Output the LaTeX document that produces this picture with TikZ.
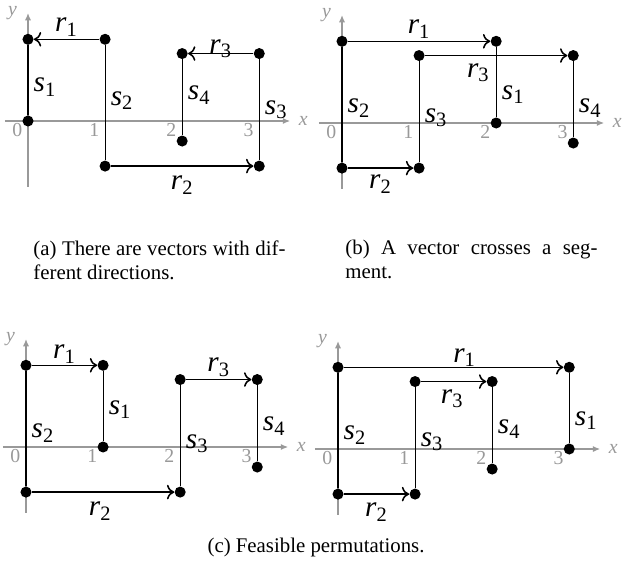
\documentclass[tikz,border=0pt]{standalone}
\usepackage{fontspec}
\setmainfont{Liberation Serif}
\usetikzlibrary{arrows.meta}

\definecolor{axisgray}{gray}{0.6}
\newcommand{\vlab}[2]{\textit{#1}\textsubscript{#2}}
% axes, axis names and ticks of one panel
\newcommand{\drawaxes}[1]{%
  \draw[axisline] (-0.3,0) -- (3.4,0);
  \draw[axisline] (0,-0.85) -- (0,1.40);
  \node[axlbl] (#1x) at (3.57,0) {x};
  \node[axlbl] (#1y) at (-0.2,1.40) {y};
  \foreach \i in {0,...,3} \node[ticklbl] (#1t\i) at (\i-0.14,-0.12) {\i};
}

\tikzset{
  axisline/.style={draw=axisgray, line width=0.6pt, -{Latex[length=3.5pt,width=3pt]}},
  axlbl/.style={text=axisgray, font=\fontsize{9.5}{10}\selectfont\itshape, inner sep=0pt},
  ticklbl/.style={text=axisgray, font=\fontsize{9.5}{10}\selectfont, inner sep=0pt},
  dot/.style={circle, fill=black, inner sep=0pt, minimum size=5.3pt},
  seg/.style={line width=0.5pt},
  vec/.style={line width=0.75pt, -{To[length=3.5pt,width=7pt]}},
  lbl/.style={font=\fontsize{14}{14}\selectfont, inner sep=0pt},
  subcap/.style={font=\fontsize{10}{11.5}\selectfont, inner sep=0pt, text width=121pt, align=justify, anchor=north west}
}

\begin{document}
\begin{tikzpicture}[x=37pt,y=37pt]
\path (0pt,0pt) rectangle (299.04pt,281.28pt);

% (a)
\begin{scope}[shift={(13.44pt,223.2pt)}]
\drawaxes{a}
\node[dot] (a0) at (0,0) {};
\node[dot] (a1) at (0,1.06) {};
\node[dot] (a2) at (1,1.06) {};
\node[dot] (a3) at (1,-0.585) {};
\node[dot] (a4) at (3,-0.585) {};
\node[dot] (a5) at (3,0.875) {};
\node[dot] (a6) at (2,0.875) {};
\node[dot] (a7) at (2,-0.26) {};
\draw[seg] (a0) -- node[lbl,right=2.5pt,pos=0.40] (as1) {\vlab{s}{1}} (a1);
\draw[vec] (a2) -- node[lbl,above=1pt] (ar1) {\vlab{r}{1}} (a1);
\draw[seg] (a3) -- node[lbl,right=2.5pt,pos=0.52] (as2) {\vlab{s}{2}} (a2);
\draw[vec] (a3) -- node[lbl,below=4.3pt] (ar2) {\vlab{r}{2}} (a4);
\draw[seg] (a4) -- node[lbl,right=2.5pt,pos=0.50] (as3) {\vlab{s}{3}} (a5);
\draw[vec] (a5) -- node[lbl,above=-2.4pt] (ar3) {\vlab{r}{3}} (a6);
\draw[seg] (a7) -- node[lbl,right=2.5pt,pos=0.53] (as4) {\vlab{s}{4}} (a6);
\end{scope}

% (b)
\begin{scope}[shift={(164.16pt,222.24pt)}]
\drawaxes{b}
\node[dot] (b0) at (2,0) {};
\node[dot] (b1) at (2,1.06) {};
\node[dot] (b2) at (0,1.06) {};
\node[dot] (b3) at (0,-0.585) {};
\node[dot] (b4) at (1,-0.585) {};
\node[dot] (b5) at (1,0.875) {};
\node[dot] (b6) at (3,0.875) {};
\node[dot] (b7) at (3,-0.26) {};
\draw[seg] (b0) -- node[lbl,right=2.5pt,pos=0.32] (bs1) {\vlab{s}{1}} (b1);
\draw[vec] (b2) -- node[lbl,above=1pt] (br1) {\vlab{r}{1}} (b1);
\draw[seg] (b3) -- node[lbl,right=2.5pt,pos=0.47] (bs2) {\vlab{s}{2}} (b2);
\draw[vec] (b3) -- node[lbl,below=3pt] (br2) {\vlab{r}{2}} (b4);
\draw[seg] (b4) -- node[lbl,right=2.5pt,pos=0.44] (bs3) {\vlab{s}{3}} (b5);
\draw[vec] (b5) -- node[lbl,below=3.4pt,pos=0.375] (br3) {\vlab{r}{3}} (b6);
\draw[seg] (b7) -- node[lbl,right=2.5pt,pos=0.38] (bs4) {\vlab{s}{4}} (b6);
\end{scope}

% (c), left
\begin{scope}[shift={(12.48pt,66.72pt)}]
\drawaxes{c}
\node[dot] (c0) at (1,0) {};
\node[dot] (c1) at (1,1.06) {};
\node[dot] (c2) at (0,1.06) {};
\node[dot] (c3) at (0,-0.585) {};
\node[dot] (c4) at (2,-0.585) {};
\node[dot] (c5) at (2,0.875) {};
\node[dot] (c6) at (3,0.875) {};
\node[dot] (c7) at (3,-0.26) {};
\draw[seg] (c0) -- node[lbl,right=2.5pt,pos=0.45] (cs1) {\vlab{s}{1}} (c1);
\draw[vec] (c2) -- node[lbl,above=0.5pt] (cr1) {\vlab{r}{1}} (c1);
\draw[seg] (c3) -- node[lbl,right=2.5pt,pos=0.46] (cs2) {\vlab{s}{2}} (c2);
\draw[vec] (c3) -- node[lbl,below=4.3pt,pos=0.48] (cr2) {\vlab{r}{2}} (c4);
\draw[seg] (c4) -- node[lbl,right=2.5pt,pos=0.42] (cs3) {\vlab{s}{3}} (c5);
\draw[vec] (c5) -- node[lbl,above=1pt] (cr3) {\vlab{r}{3}} (c6);
\draw[seg] (c7) -- node[lbl,right=2.5pt,pos=0.46] (cs4) {\vlab{s}{4}} (c6);
\end{scope}

% (c), right
\begin{scope}[shift={(162.24pt,65.76pt)}]
\drawaxes{d}
\node[dot] (d0) at (3,0) {};
\node[dot] (d1) at (3,1.06) {};
\node[dot] (d2) at (0,1.06) {};
\node[dot] (d3) at (0,-0.585) {};
\node[dot] (d4) at (1,-0.585) {};
\node[dot] (d5) at (1,0.875) {};
\node[dot] (d6) at (2,0.875) {};
\node[dot] (d7) at (2,-0.26) {};
\draw[seg] (d0) -- node[lbl,right=2.5pt,pos=0.32] (ds1) {\vlab{s}{1}} (d1);
\draw[vec] (d2) -- node[lbl,above=0pt,pos=0.55] (dr1) {\vlab{r}{1}} (d1);
\draw[seg] (d3) -- node[lbl,right=2.5pt,pos=0.46] (ds2) {\vlab{s}{2}} (d2);
\draw[vec] (d3) -- node[lbl,below=3.8pt] (dr2) {\vlab{r}{2}} (d4);
\draw[seg] (d4) -- node[lbl,right=2.5pt,pos=0.46] (ds3) {\vlab{s}{3}} (d5);
\draw[vec] (d5) -- node[lbl,below=3.4pt,pos=0.48] (dr3) {\vlab{r}{3}} (d6);
\draw[seg] (d7) -- node[lbl,right=2.5pt,pos=0.45] (ds4) {\vlab{s}{4}} (d6);
\end{scope}

% captions
\node[subcap] (capa) at (15.84pt,166.1pt) {(a) There are vectors with dif-\linebreak ferent directions.};
\node[subcap] (capb) at (165.6pt,166.1pt) {(b) A vector crosses a seg-\linebreak ment.};
\node[font=\fontsize{10}{11.5}\selectfont, inner sep=0pt] (capc) at (151.7pt,18.7pt) {(c) Feasible permutations.};
\end{tikzpicture}
\end{document}
